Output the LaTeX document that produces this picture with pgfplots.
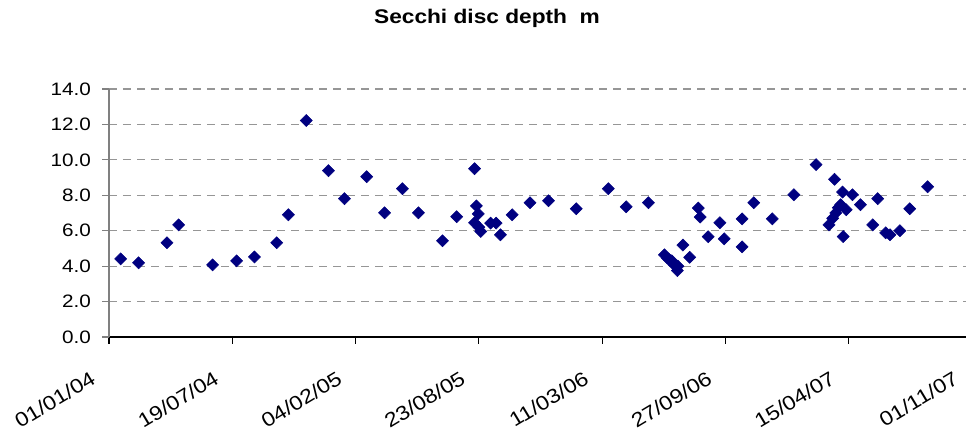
\documentclass[border=0pt]{standalone}
\usepackage{fontspec}
\setmainfont{Liberation Sans}[FakeStretch=1.15]
\usepackage{pgfplots}
\pgfplotsset{compat=1.18}
\usetikzlibrary{calc}
\definecolor{navy}{RGB}{0,0,128}
\definecolor{gridgray}{RGB}{150,150,150}
\definecolor{axgray}{RGB}{128,128,128}
\pgfplotstableread{
day depth
19 4.41
48 4.19
94 5.32
113 6.33
168 4.07
207 4.30
236 4.52
272 5.32
291 6.90
320 12.22
356 9.39
382 7.81
418 9.05
447 7.01
476 8.37
502 7.01
541 5.43
564 6.79
593 9.50
596 7.40
599 6.95
593 6.45
603 5.96
600 6.20
619 6.43
628 6.43
635 5.77
654 6.90
683 7.58
713 7.69
758 7.24
810 8.37
839 7.35
875 7.58
901 4.64
906 4.45
909 4.36
913 4.30
917 4.07
922 3.75
923 4.00
931 5.19
942 4.50
956 7.28
959 6.77
972 5.66
991 6.45
998 5.54
1027 6.67
1027 5.09
1046 7.58
1076 6.67
1111 8.03
1147 9.73
1177 8.90
1190 8.18
1206 8.03
1187 7.47
1196 7.18
1179 7.00
1174 6.70
1168 6.33
1191 5.67
1183 7.30
1219 7.47
1247 7.81
1239 6.33
1260 5.88
1267 5.77
1283 6.00
1299 7.24
1328 8.48
}\secchi
\begin{document}
\begin{tikzpicture}
\begin{axis}[
  scale only axis,
  width=647.25pt, height=186pt,
  xmin=0, xmax=1400, ymin=0, ymax=14,
  clip=false,
  axis x line*=bottom, axis y line*=left,
  x axis line style={black, line width=0.9pt, -},
  y axis line style={axgray, line width=0.9pt, -},
  xtick={0,200,...,1400},
  xticklabels={01/01/04,19/07/04,04/02/05,23/08/05,11/03/06,27/09/06,15/04/07,01/11/07},
  ytick={0,2,...,14},
  yticklabel={\pgfmathprintnumber[fixed,fixed zerofill,precision=1]{\tick}},
  tick align=outside,
  major tick length=5pt,
  x tick style={black, line width=0.8pt},
  y tick style={axgray, line width=0.8pt},
  ymajorgrids,
  major grid style={gridgray, line width=0.8pt, dash pattern=on 6pt off 4.5pt},
  yticklabel style={font=\fontsize{13.5}{16}\selectfont, xshift=-5pt},
  xticklabel style={font=\fontsize{15}{18}\selectfont, anchor=north east, xshift=-13.5pt, yshift=-15pt, rotate=31},
  /pgf/number format/assume math mode=true,
]
\addplot[only marks, mark=square*, mark size=3.2pt, mark options={rotate=45, fill=navy, draw=navy}] table[x=day, y=depth] {\secchi};
\end{axis}
\node[font=\bfseries\fontsize{14.8}{17}\selectfont] at ($(current axis.south west)+(283.5pt,239.25pt)$) {Secchi disc depth\ \ m};
\pgfresetboundingbox
\path[use as bounding box] ($(current axis.south west)+(-81.75pt,-72.75pt)$) rectangle +(724.5pt,325.5pt);
\end{tikzpicture}
\end{document}
